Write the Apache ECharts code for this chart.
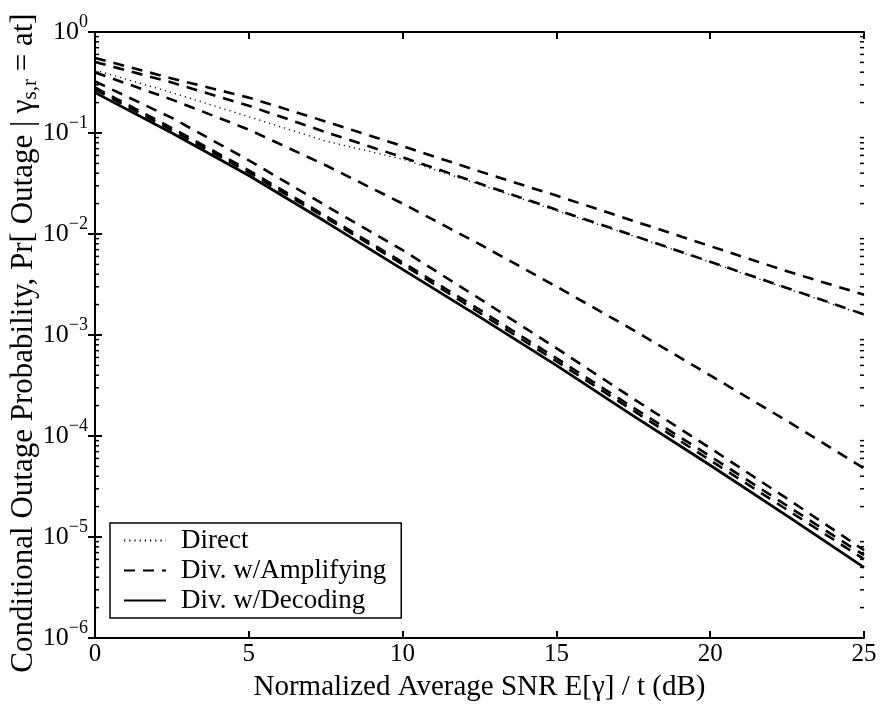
<!DOCTYPE html>
<html>
<head>
<meta charset="utf-8">
<script src="https://cdn.jsdelivr.net/npm/echarts@6/dist/echarts.min.js"></script>
<style>
  html, body { margin: 0; padding: 0; background: #fff; }
  #chart { width: 880px; height: 705px; }
</style>
</head>
<body>
<div id="chart"></div>
<script>
// SNR grid (dB)
var snr = [0, 2.5, 5, 7.5, 10, 12.5, 15, 17.5, 20, 22.5, 25];

// Direct transmission (dotted)
var direct = [0.42, 0.251, 0.145, 0.0832, 0.055, 0.0309, 0.017, 0.00955, 0.00525, 0.00288, 0.00158];

// Diversity with amplifying (dashed), one curve per relay condition
var ampA = [0.553, 0.347, 0.224, 0.130, 0.0741, 0.0417, 0.024, 0.0135, 0.00759, 0.00427, 0.00251];
var ampB = [0.505, 0.316, 0.186, 0.102, 0.0575, 0.0316, 0.0174, 0.00966, 0.00531, 0.00292, 0.0016];
var ampC = [0.398, 0.214, 0.108, 0.0479, 0.020, 0.00794, 0.00302, 0.00112, 3.98e-4, 1.41e-4, 4.79e-5];
var ampD = [0.324, 0.141, 0.0537, 0.0191, 0.00692, 0.00229, 7.41e-4, 2.34e-4, 7.59e-5, 2.40e-5, 7.41e-6];
var ampE = [0.282, 0.112, 0.0427, 0.0151, 0.00525, 0.00178, 5.89e-4, 1.91e-4, 6.31e-5, 2.04e-5, 6.61e-6];
var ampF = [0.269, 0.107, 0.0407, 0.0145, 0.00501, 0.00166, 5.50e-4, 1.78e-4, 5.75e-5, 1.86e-5, 6.03e-6];

// Diversity with decoding (solid)
var decoding = [0.251, 0.100, 0.038, 0.0132, 0.00447, 0.00151, 5.01e-4, 1.58e-4, 5.13e-5, 1.62e-5, 5.01e-6];

var xTicks = [0, 5, 10, 15, 20, 25];
var legendNames = ['Direct', 'Div. w/Amplifying', 'Div. w/Decoding'];

var FONT = 'Liberation Serif';

function pairs(ys) {
    var out = [];
    for (var i = 0; i < snr.length; i++) out.push([snr[i], ys[i]]);
    return out;
}

function lineSeries(name, ys, type, width) {
    return {
        name: name,
        type: 'line',
        data: pairs(ys),
        showSymbol: false,
        symbol: 'none',
        smooth: false,
        lineStyle: { color: '#000', width: width, type: type },
        itemStyle: { color: '#000' },
        z: 3
    };
}

// log minor ticks 2..9 in every decade
var minorTicks = [];
for (var k = -6; k < 0; k++) {
    for (var m = 2; m <= 9; m++) minorTicks.push([0, m * Math.pow(10, k)]);
}

function renderMinor(params, api) {
    var p = api.coord([xTicks[0], api.value(1)]);
    var q = api.coord([xTicks[xTicks.length - 1], api.value(1)]);
    var st = { stroke: '#000', lineWidth: 1.5 };
    return {
        type: 'group',
        children: [
            { type: 'line', shape: { x1: p[0], y1: p[1], x2: p[0] + 4, y2: p[1] }, style: st },
            { type: 'line', shape: { x1: q[0], y1: q[1], x2: q[0] - 4, y2: q[1] }, style: st }
        ]
    };
}

function yLabel(val) {
    var e = Math.round(Math.log10(val));
    return '{b|10}{s|' + (e < 0 ? '\u2212' + (-e) : e) + '}';
}

var dashed = [11, 8];
var series = [
    lineSeries(legendNames[0], direct, [1.2, 4], 1.3),
    lineSeries(legendNames[1], ampA, dashed, 2.6),
    lineSeries(legendNames[1], ampB, dashed, 2.6),
    lineSeries(legendNames[1], ampC, dashed, 2.6),
    lineSeries(legendNames[1], ampD, dashed, 2.6),
    lineSeries(legendNames[1], ampE, dashed, 2.6),
    lineSeries(legendNames[1], ampF, dashed, 2.6),
    lineSeries(legendNames[2], decoding, 'solid', 2.8),
    {
        type: 'custom',
        renderItem: renderMinor,
        data: minorTicks,
        silent: true,
        z: 5
    }
];

var axisLineStyle = { show: true, lineStyle: { color: '#000', width: 2 } };
var tickStyle = { show: true, inside: true, length: 7, lineStyle: { color: '#000', width: 2 } };

var option = {
    backgroundColor: '#ffffff',
    animation: false,
    textStyle: { fontFamily: FONT, color: '#000' },
    grid: { left: 95, right: 16, top: 32, bottom: 67, containLabel: false, outerBoundsMode: 'none' },
    legend: {
        data: legendNames,
        orient: 'vertical',
        left: 110,
        top: 523,
        backgroundColor: '#fff',
        borderColor: '#000',
        borderWidth: 1.5,
        padding: [4, 15, 4, 13],
        itemWidth: 42,
        itemHeight: 14,
        itemGap: 3,
        itemStyle: { opacity: 0 },
        textStyle: { fontFamily: FONT, fontSize: 27, lineHeight: 27, color: '#000', padding: [0, 0, 0, 10] }
    },
    xAxis: [
        {
            type: 'value',
            min: 0,
            max: 25,
            interval: 5,
            position: 'bottom',
            name: 'Normalized Average SNR E[\u03b3] / t (dB)',
            nameLocation: 'middle',
            nameGap: 35,
            nameMoveOverlap: false,
            nameTextStyle: { fontFamily: FONT, fontSize: 29, color: '#000' },
            axisLine: axisLineStyle,
            axisTick: tickStyle,
            axisLabel: { show: true, margin: 4, fontFamily: FONT, fontSize: 25, color: '#000' },
            splitLine: { show: false }
        },
        {
            type: 'value',
            min: 0,
            max: 25,
            interval: 5,
            position: 'top',
            axisLine: axisLineStyle,
            axisTick: tickStyle,
            axisLabel: { show: false },
            splitLine: { show: false }
        }
    ],
    yAxis: [
        {
            type: 'log',
            logBase: 10,
            min: 1e-6,
            max: 1,
            splitNumber: 6,
            position: 'left',
            name: 'Conditional Outage Probability, Pr[ Outage | \u03b3{sub|s,r} = at]',
            nameLocation: 'middle',
            nameGap: 54,
            nameMoveOverlap: false,
            nameTextStyle: {
                fontFamily: FONT, fontSize: 31, color: '#000',
                padding: [0, 16, 0, 0],
                rich: { sub: { fontFamily: FONT, fontSize: 21, padding: [14, 0, 0, 0] } }
            },
            axisLine: axisLineStyle,
            axisTick: tickStyle,
            axisLabel: {
                show: true,
                margin: 7,
                formatter: yLabel,
                rich: {
                    b: { fontFamily: FONT, fontSize: 26, color: '#000' },
                    s: { fontFamily: FONT, fontSize: 18, color: '#000', padding: [0, 0, 20, 0] }
                }
            },
            splitLine: { show: false },
            minorTick: { show: false }
        },
        {
            type: 'log',
            logBase: 10,
            min: 1e-6,
            max: 1,
            splitNumber: 6,
            position: 'right',
            axisLine: axisLineStyle,
            axisTick: tickStyle,
            axisLabel: { show: false },
            splitLine: { show: false }
        }
    ],
    series: series
};

var chart = echarts.init(document.getElementById('chart'));
chart.setOption(option);
</script>
</body>
</html>
